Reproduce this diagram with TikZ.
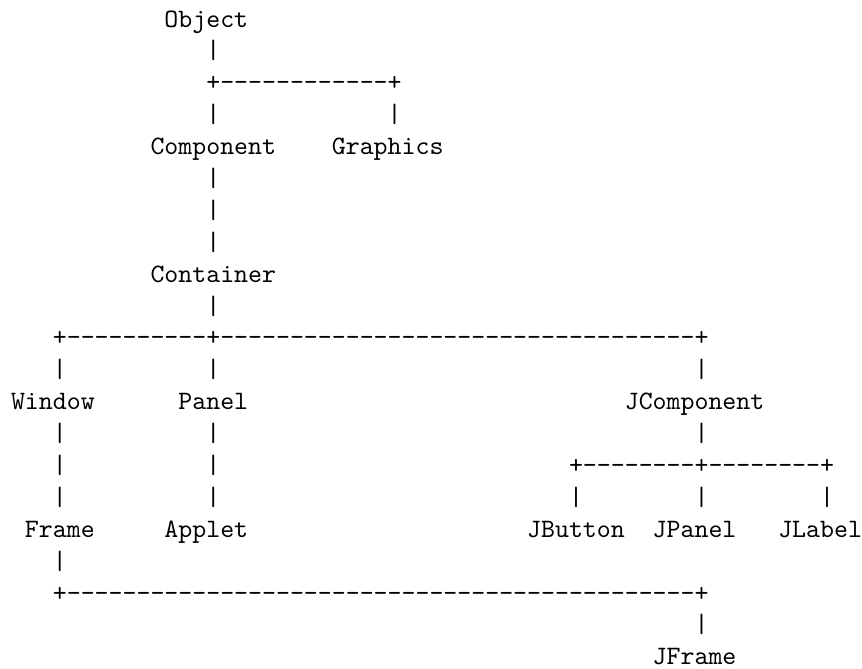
\documentclass[tikz,border=0pt]{standalone}
\newcount\dashcnt
\newcommand\dashrun[1]{\dashcnt=0\relax\loop\ifnum\dashcnt<#1\relax\hbox{-}\advance\dashcnt by 1\relax\repeat}
\begin{document}
\begin{tikzpicture}[x=5.25pt,y=-12pt,
  txt/.style={anchor=base west,inner sep=0pt,outer sep=0pt,font=\ttfamily\fontsize{10}{12}\selectfont}]
\fill[white] (0pt,0pt) rectangle (324.4pt,-251.75pt);
\useasboundingbox (0pt,0pt) rectangle (324.4pt,-251.75pt);
\begin{scope}[shift={(4.14pt,-10.2pt)}]
% line 0-4
\node[txt] (object) at (11,0) {Object};
\node[txt] (p1) at (14,1) {|};
\node[txt] (h1) at (14,2) {+\dashrun{12}+};
\node[txt] (p3a) at (14,3) {|};
\node[txt] (p3b) at (27,3) {|};
\node[txt] (component) at (10,4) {Component};
\node[txt] (graphics) at (23,4) {Graphics};
% line 5-9
\node[txt] (p5) at (14,5) {|};
\node[txt] (p6) at (14,6) {|};
\node[txt] (p7) at (14,7) {|};
\node[txt] (container) at (10,8) {Container};
\node[txt] (p9) at (14,9) {|};
% line 10-16
\node[txt] (h2) at (3,10) {+\dashrun{10}+\dashrun{34}+};
\node[txt] (p11a) at (3,11) {|};
\node[txt] (p11b) at (14,11) {|};
\node[txt] (p11c) at (49,11) {|};
\node[txt] (window) at (0,12) {Window};
\node[txt] (panel) at (12,12) {Panel};
\node[txt] (jcomponent) at (44,12) {JComponent};
\node[txt] (p13a) at (3,13) {|};
\node[txt] (p13b) at (14,13) {|};
\node[txt] (p13c) at (49,13) {|};
\node[txt] (p14a) at (3,14) {|};
\node[txt] (p14b) at (14,14) {|};
\node[txt] (h3) at (40,14) {+\dashrun{8}+\dashrun{8}+};
\node[txt] (p15a) at (3,15) {|};
\node[txt] (p15b) at (14,15) {|};
\node[txt] (p15c) at (40,15) {|};
\node[txt] (p15d) at (49,15) {|};
\node[txt] (p15e) at (58,15) {|};
\node[txt] (frame) at (1,16) {Frame};
\node[txt] (applet) at (11,16) {Applet};
\node[txt] (jbutton) at (37,16) {JButton};
\node[txt] (jpanel) at (46,16) {JPanel};
\node[txt] (jlabel) at (55,16) {JLabel};
% line 17-20
\node[txt] (p17) at (3,17) {|};
\node[txt] (h4) at (3,18) {+\dashrun{45}+};
\node[txt] (p19) at (49,19) {|};
\node[txt] (jframe) at (46,20) {JFrame};
\end{scope}
\end{tikzpicture}
\end{document}
